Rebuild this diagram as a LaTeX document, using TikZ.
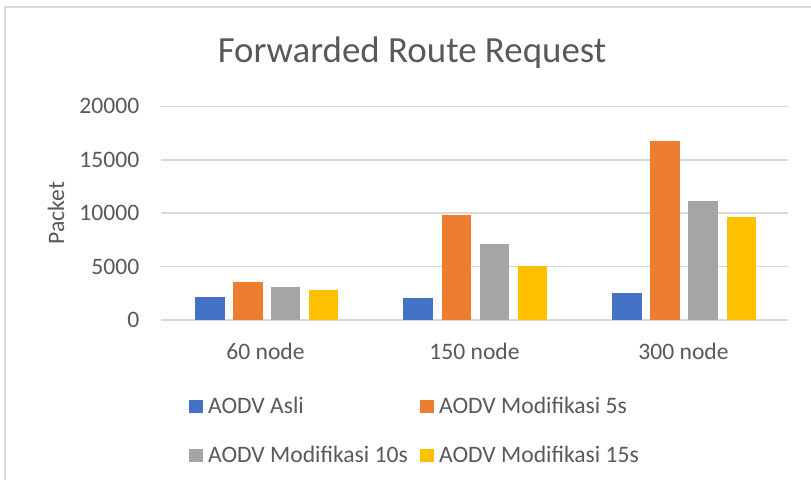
\documentclass[tikz,border=0pt]{standalone}
\usepackage{fontspec}
\setmainfont{Carlito}
\definecolor{txt}{HTML}{595959}
\definecolor{grid}{HTML}{D9D9D9}
\definecolor{cblue}{HTML}{4472C4}
\definecolor{corange}{HTML}{ED7D31}
\definecolor{cgray}{HTML}{A5A5A5}
\definecolor{cyellow}{HTML}{FFC000}
\begin{document}
\begin{tikzpicture}[x=1pt,y=-1pt,
  lbl/.style={text=txt,font=\fontsize{23.6}{26}\selectfont,inner sep=0pt},
  gridline/.style={draw=grid,line width=1.6pt},
  swatch/.style={minimum width=13.5pt,minimum height=13.5pt,inner sep=0pt,draw=none}]
\useasboundingbox (0,0) rectangle (811,480);
\fill[white] (0,0) rectangle (811,480);
% frame
\draw[grid,line width=1.2pt] (5,480) -- (5,7) -- (811,7);
% title
\node[text=txt,font=\fontsize{36.9}{40}\selectfont,inner sep=0pt,anchor=base] (title) at (412,62) {Forwarded Route Request};
% gridlines and ticks
\foreach \v/\y in {0/320,5000/266.6,10000/213.2,15000/159.8,20000/106.4}{
  \draw[gridline] (161,\y) -- (788,\y);
  \node[lbl,anchor=east] (t\v) at (139.5,\y) {\v};
}
% axis title
\node[lbl,rotate=90] (ylab) at (56,213) {Packet};
% bars: value in hundreds -> height = v*1.068
\foreach \x/\v/\c in {
 195/21.73/cblue, 233/35.15/corange, 270.5/30.50/cgray, 308.5/27.70/cyellow,
 403/20.50/cblue, 441.5/97.95/corange, 479.5/70.90/cgray, 517.5/50.40/cyellow,
 612/25.20/cblue, 650/167.60/corange, 688/111.30/cgray, 726.5/96.10/cyellow}{
  \fill[\c] (\x,320) rectangle ({\x+29.6},{320-\v*1.068});
}
% category labels
\node[lbl,anchor=base] (c1) at (265.5,359) {60 node};
\node[lbl,anchor=base] (c2) at (474.5,359) {150 node};
\node[lbl,anchor=base] (c3) at (683.5,359) {300 node};
% legend
\node[swatch,fill=cblue] (s1) at (196,406.5) {};
\node[lbl,anchor=base west] (l1) at (208,413) {AODV Asli};
\node[swatch,fill=corange] (s2) at (426.8,406.5) {};
\node[lbl,anchor=base west] (l2) at (439,413) {AODV Modifikasi 5s};
\node[swatch,fill=cgray] (s3) at (196,455.5) {};
\node[lbl,anchor=base west] (l3) at (208,462) {AODV Modifikasi 10s};
\node[swatch,fill=cyellow] (s4) at (426.8,455.5) {};
\node[lbl,anchor=base west] (l4) at (439,462) {AODV Modifikasi 15s};
\end{tikzpicture}
\end{document}
